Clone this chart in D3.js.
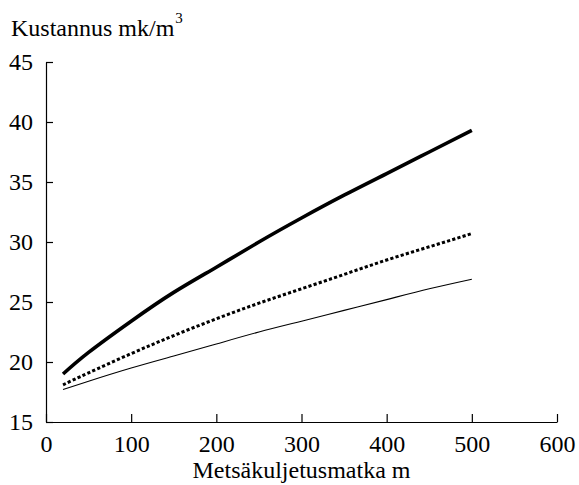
<!DOCTYPE html>
<html>
<head>
    <meta charset="utf-8">
    <script src="https://d3js.org/d3.v7.min.js"></script>
</head>
<body style="margin:0">
    <script>
        //****DATA****
        const distances = [20, 50, 100, 150, 200, 250, 300, 350, 400, 450, 500];
        const costThick = [19.0, 20.8, 23.4, 25.8, 27.9, 30.0, 32.0, 33.9, 35.7, 37.5, 39.3];
        const costDotted = [18.1, 19.1, 20.7, 22.2, 23.6, 24.9, 26.1, 27.3, 28.5, 29.6, 30.7];
        const costThin = [17.7, 18.4, 19.5, 20.5, 21.5, 22.5, 23.4, 24.3, 25.2, 26.1, 26.9];
        const xTicks = [0, 100, 200, 300, 400, 500, 600];
        const yTicks = [15, 20, 25, 30, 35, 40, 45];

        //****SVG CANVAS****
        const width = 579;
        const height = 485;
        const plotLeft = 46, plotRight = 557, plotTop = 62, plotBottom = 422;

        const svg = d3.select('body')
            .append('svg')
            .attr('width', width)
            .attr('height', height);

        // serif text helper
        function serif(sel, size) {
            return sel.attr('font-family', 'Liberation Serif')
                .attr('font-size', size)
                .style('font-family', 'Liberation Serif')
                .style('font-size', size + 'px')
                .attr('fill', 'black');
        }

        //****SCALES****
        const xScale = d3.scaleLinear().domain([0, 600]).range([plotLeft, plotRight]);
        const yScale = d3.scaleLinear().domain([15, 45]).range([plotBottom, plotTop]);

        //****AXES****
        const xAxis = d3.axisBottom(xScale)
            .tickValues(xTicks)
            .tickSize(-8)
            .tickSizeOuter(0)
            .tickPadding(13);

        const yAxis = d3.axisLeft(yScale)
            .tickValues(yTicks)
            .tickSize(-7)
            .tickSizeOuter(0)
            .tickPadding(13);

        const gx = svg.append('g')
            .attr('transform', `translate(0, ${plotBottom})`)
            .call(xAxis)
            .attr('font-family', 'Liberation Serif');
        serif(gx.selectAll('text'), 24)
            .attr('dy', '0.71em');

        const gy = svg.append('g')
            .attr('transform', `translate(${plotLeft}, 0)`)
            .call(yAxis)
            .attr('font-family', 'Liberation Serif');
        serif(gy.selectAll('text'), 24);

        svg.selectAll('.domain, .tick line')
            .attr('stroke', 'black')
            .attr('stroke-width', 1.2);

        //****LINES****
        const line = d3.line()
            .x((d, i) => xScale(distances[i]))
            .y(d => yScale(d))
            .curve(d3.curveNatural);

        svg.append('path')
            .datum(costThin)
            .attr('d', line)
            .attr('fill', 'none')
            .attr('stroke', 'black')
            .attr('stroke-width', 1.1);

        svg.append('path')
            .datum(costDotted)
            .attr('d', line)
            .attr('fill', 'none')
            .attr('stroke', 'black')
            .attr('stroke-width', 3)
            .attr('stroke-dasharray', '3.2,2.2');

        svg.append('path')
            .datum(costThick)
            .attr('d', line)
            .attr('fill', 'none')
            .attr('stroke', 'black')
            .attr('stroke-width', 3.6);

        //****LABELS****
        const yLabel = serif(svg.append('text'), 24)
            .attr('x', 11)
            .attr('y', 36)
            .text('Kustannus mk/m');
        yLabel.append('tspan')
            .attr('dx', 1)
            .attr('dy', -13)
            .attr('font-size', 15)
            .style('font-size', '15px')
            .text('3');

        serif(svg.append('text'), 24)
            .attr('x', (plotLeft + plotRight) / 2)
            .attr('y', 478)
            .attr('text-anchor', 'middle')
            .text('Metsäkuljetusmatka m');
    </script>
</body>
</html>
